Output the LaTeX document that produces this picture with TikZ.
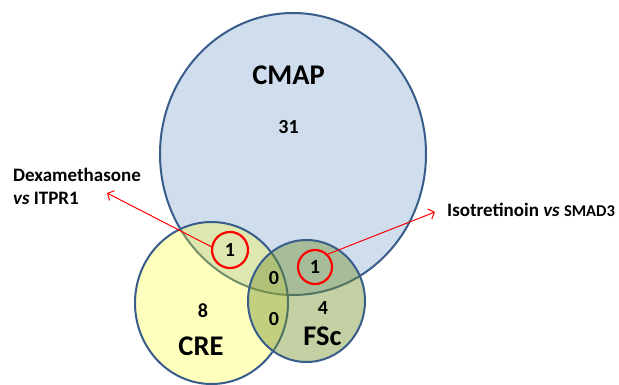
\documentclass[tikz,border=0pt]{standalone}
\usepackage{fontspec}
\setmainfont{Carlito}
\usetikzlibrary{arrows.meta}
\definecolor{cmapblue}{RGB}{208,221,236}
\definecolor{creyellow}{RGB}{255,255,38}
\definecolor{fscgreen}{RGB}{114,145,44}
\definecolor{rimblue}{RGB}{56,93,138}
\begin{document}
\begin{tikzpicture}[x=1pt,y=-1pt,
    rim/.style={draw=rimblue,line width=2pt},
    hit/.style={circle,draw=red,line width=2.2pt,minimum size=#1,inner sep=0pt,
      font=\fontsize{20}{24}\selectfont\bfseries},
    setname/.style={inner sep=0pt,font=\fontsize{28.5}{34}\selectfont\bfseries},
    count/.style={inner sep=0pt,font=\fontsize{20}{24}\selectfont\bfseries},
    tag/.style={inner sep=0pt,font=\fontsize{19}{23}\selectfont\bfseries},
    link/.style={red,line width=1pt,-{Straight Barb[length=5pt,width=11pt]}}]
  \useasboundingbox (0,0) rectangle (619,385);

  % the three sets
  \filldraw[fill=cmapblue,rim] (293,154) ellipse [x radius=133pt,y radius=141pt];
  \filldraw[fill=creyellow,fill opacity=0.3,rim] (211.5,303) ellipse [x radius=76.5pt,y radius=81pt];
  \filldraw[fill=fscgreen,fill opacity=0.43,rim] (306.5,301) ellipse [x radius=58.5pt,y radius=61pt];

  % set names and counts
  \node[setname] (cmap) at (288.5,75) {CMAP};
  \node[count] (n31) at (288.5,127) {31};
  \node[setname] (cre) at (201,346) {CRE};
  \node[count] (n8) at (203,311) {8};
  \node[setname] (fsc) at (322.5,336) {FSc};
  \node[count] (n4) at (323,308.5) {4};
  \node[count] (n0a) at (274,278.5) {0};
  \node[count] (n0b) at (274,319) {0};

  % highlighted pairs
  \node[hit=36pt] (hitA) at (230,250) {1};
  \node[hit=34pt] (hitB) at (315,267) {1};
  \coordinate (tipA) at (107,193);
  \coordinate (tipB) at (435,212);
  \draw[link] (hitA.170) -- (tipA);
  \draw[link] (hitB.45) -- (tipB);
  \node[tag,anchor=west,align=left] (dexa) at (13,186) {Dexamethasone\\\textit{vs} ITPR1};
  \node[tag,anchor=west] (isot) at (447,210) {Isotretinoin \textit{vs} {\fontsize{16.5}{19}\selectfont SMAD3}};
\end{tikzpicture}
\end{document}
